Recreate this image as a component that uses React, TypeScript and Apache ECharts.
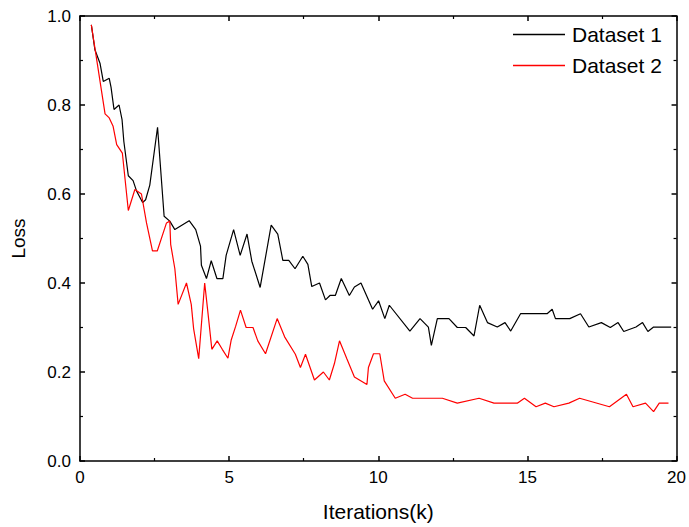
import React, { useEffect, useRef } from "react";
import * as echarts from "echarts";

const dataset1X = [0.38, 0.5, 0.67, 0.78, 0.98, 1.04, 1.14, 1.31, 1.41, 1.47, 1.62, 1.78, 1.9, 2.1, 2.2, 2.34, 2.6, 2.82, 3.01, 3.18, 3.66, 3.88, 4.04, 4.07, 4.24, 4.4, 4.59, 4.79, 4.9, 5.15, 5.37, 5.6, 5.76, 6.04, 6.41, 6.63, 6.8, 7.0, 7.21, 7.47, 7.64, 7.77, 8.03, 8.23, 8.38, 8.56, 8.76, 9.03, 9.2, 9.42, 9.81, 10.01, 10.22, 10.37, 11.06, 11.4, 11.68, 11.78, 11.98, 12.37, 12.65, 12.93, 13.21, 13.4, 13.66, 13.99, 14.25, 14.44, 14.77, 15.66, 15.83, 15.94, 16.42, 16.78, 17.06, 17.48, 17.78, 18.04, 18.23, 18.64, 18.86, 19.04, 19.23, 19.82];
const dataset1Y = [0.98, 0.924, 0.894, 0.853, 0.86, 0.84, 0.79, 0.8, 0.767, 0.718, 0.641, 0.63, 0.606, 0.581, 0.587, 0.62, 0.75, 0.55, 0.539, 0.52, 0.54, 0.52, 0.483, 0.44, 0.41, 0.45, 0.41, 0.41, 0.462, 0.52, 0.462, 0.51, 0.449, 0.39, 0.53, 0.51, 0.451, 0.451, 0.432, 0.46, 0.442, 0.392, 0.4, 0.362, 0.372, 0.372, 0.41, 0.372, 0.391, 0.4, 0.341, 0.36, 0.32, 0.35, 0.292, 0.32, 0.301, 0.26, 0.32, 0.32, 0.3, 0.3, 0.281, 0.35, 0.311, 0.301, 0.311, 0.292, 0.331, 0.331, 0.341, 0.32, 0.32, 0.331, 0.301, 0.311, 0.3, 0.311, 0.291, 0.301, 0.311, 0.291, 0.301, 0.301];

const dataset2X = [0.38, 0.84, 0.98, 1.11, 1.23, 1.42, 1.62, 1.84, 2.06, 2.23, 2.43, 2.59, 2.9, 3.01, 3.04, 3.18, 3.29, 3.57, 3.73, 3.81, 3.98, 4.18, 4.29, 4.42, 4.6, 4.77, 4.96, 5.07, 5.22, 5.38, 5.57, 5.8, 5.96, 6.22, 6.61, 6.86, 7.22, 7.39, 7.56, 7.86, 8.16, 8.36, 8.53, 8.7, 8.95, 9.2, 9.62, 9.67, 9.84, 10.05, 10.2, 10.57, 10.9, 11.15, 12.15, 12.65, 13.38, 13.88, 14.66, 14.9, 15.29, 15.6, 15.89, 16.39, 16.75, 17.75, 18.32, 18.54, 18.96, 19.23, 19.42, 19.73];
const dataset2Y = [0.98, 0.78, 0.771, 0.752, 0.711, 0.692, 0.563, 0.61, 0.6, 0.535, 0.472, 0.472, 0.535, 0.539, 0.487, 0.432, 0.352, 0.4, 0.352, 0.297, 0.23, 0.4, 0.333, 0.251, 0.27, 0.251, 0.231, 0.272, 0.303, 0.339, 0.3, 0.3, 0.27, 0.241, 0.32, 0.279, 0.24, 0.21, 0.24, 0.182, 0.2, 0.182, 0.219, 0.27, 0.229, 0.189, 0.172, 0.21, 0.241, 0.241, 0.18, 0.141, 0.15, 0.141, 0.141, 0.13, 0.141, 0.13, 0.13, 0.141, 0.122, 0.13, 0.122, 0.13, 0.141, 0.122, 0.15, 0.122, 0.13, 0.111, 0.13, 0.13];

const xTickLabels = ["0", "5", "10", "15", "20"];
const yTickLabels = ["0.0", "0.2", "0.4", "0.6", "0.8", "1.0"];

const FONT = "Liberation Sans, Arial, sans-serif";

export default function App() {
  const ref = useRef<HTMLDivElement>(null);
  useEffect(() => {
    if (!ref.current) return;
    const chart = echarts.init(ref.current, undefined, { renderer: "svg" });
    const pair = (xs: number[], ys: number[]) => xs.map((x, i) => [x, ys[i]]);
    const axisCommon = {
      type: "value" as const,
      axisLine: { show: true, onZero: false, lineStyle: { color: "#000", width: 1.5 } },
      axisTick: { show: true, inside: true, length: 5, lineStyle: { color: "#000", width: 1.5 } },
      minorTick: { show: true, splitNumber: 2, length: 3, lineStyle: { color: "#000", width: 1.2 } },
      splitLine: { show: false },
    };
    chart.setOption({
      animation: false,
      backgroundColor: "#fff",
      grid: { left: 80, right: 11, top: 16, bottom: 65 },
      legend: {
        orient: "vertical",
        left: 508,
        top: 19,
        itemGap: 10,
        itemWidth: 52,
        itemHeight: 1.3,
        icon: "rect",
        textStyle: { fontSize: 21, color: "#000", fontFamily: FONT, padding: [0, 0, 0, 2] },
        data: ["Dataset 1", "Dataset 2"],
      },
      xAxis: [
        {
          ...axisCommon,
          min: 0,
          max: 20,
          interval: 5,
          position: "bottom",
          name: "Iterations(k)",
          nameLocation: "middle",
          nameGap: 40,
          nameTextStyle: { fontSize: 21, color: "#000", fontFamily: FONT },
          axisLabel: {
            color: "#000",
            fontSize: 17,
            fontFamily: FONT,
            margin: 8,
            formatter: (v: number) => xTickLabels[Math.round(v / 5)] ?? "",
          },
        },
        {
          ...axisCommon,
          min: 0,
          max: 20,
          interval: 5,
          position: "top",
          axisLabel: { show: false },
        },
      ],
      yAxis: [
        {
          ...axisCommon,
          min: 0,
          max: 1,
          interval: 0.2,
          position: "left",
          name: "Loss",
          nameLocation: "middle",
          nameGap: 52,
          nameTextStyle: { fontSize: 19, color: "#000", fontFamily: FONT },
          axisLabel: {
            color: "#000",
            fontSize: 17,
            fontFamily: FONT,
            margin: 9,
            formatter: (v: number) => yTickLabels[Math.round(v / 0.2)] ?? "",
          },
        },
        {
          ...axisCommon,
          min: 0,
          max: 1,
          interval: 0.2,
          position: "right",
          axisLabel: { show: false },
        },
      ],
      series: [
        {
          name: "Dataset 1",
          type: "line",
          data: pair(dataset1X, dataset1Y),
          showSymbol: false,
          symbol: "none",
          color: "#000000",
          lineStyle: { color: "#000000", width: 1.2 },
        },
        {
          name: "Dataset 2",
          type: "line",
          data: pair(dataset2X, dataset2Y),
          showSymbol: false,
          symbol: "none",
          color: "#ff0000",
          lineStyle: { color: "#ff0000", width: 1.2 },
        },
      ],
    });
    return () => chart.dispose();
  }, []);
  return <div ref={ref} style={{ width: 689, height: 527, position: "absolute", left: 0, top: 0 }} />;
}
